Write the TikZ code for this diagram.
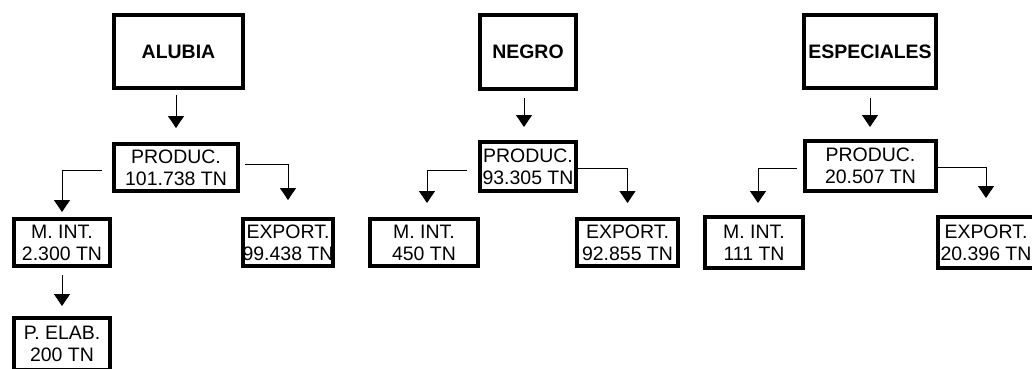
\documentclass[tikz,border=0pt]{standalone}
\usepackage{fontspec}
\setmainfont{Liberation Sans}
\usetikzlibrary{arrows.meta}

\begin{document}
\begin{tikzpicture}[x=0.75pt,y=-0.75pt]

\tikzset{box/.style = {draw, line width=3pt, inner sep=0pt, align=center, font=\fontsize{14.6}{16.5}\selectfont}}
\tikzset{title/.style = {box, font=\fontsize{14.6}{16.5}\selectfont\bfseries}}
\tikzset{edge/.style = {-{Triangle[width=12pt,length=9pt]}, line width=0.75pt}}
\useasboundingbox (0,0) rectangle (1032,368);
%titles
\node[title, minimum width=96.75pt, minimum height=54.75pt] (alubia) at (178.5,51.5) {ALUBIA};
\node[title, minimum width=72pt, minimum height=55.5pt] (negro) at (528,52) {NEGRO};
\node[title, minimum width=99pt, minimum height=54.75pt] (especiales) at (870,51.5) {ESPECIALES};
%production
\node[box, minimum width=93pt, minimum height=35.25pt] (prodA) at (176,167.5) {PRODUC.\\101.738 TN};
\node[box, minimum width=72pt, minimum height=36.75pt] (prodN) at (528,166.5) {PRODUC.\\93.305 TN};
\node[box, minimum width=98.25pt, minimum height=37.5pt] (prodE) at (870.5,166) {PRODUC.\\20.507 TN};
%destinations
\node[box, minimum width=72pt, minimum height=35.25pt] (mintA) at (62,242.5) {M. INT.\\2.300 TN};
\node[box, minimum width=67.5pt, minimum height=35.25pt] (expA) at (288,242.5) {EXPORT.\\99.438 TN};
\node[box, minimum width=72pt, minimum height=39pt] (elabA) at (62,344) {P. ELAB.\\200 TN};
\node[box, minimum width=81pt, minimum height=35.25pt] (mintN) at (424,242.5) {M. INT.\\450 TN};
\node[box, minimum width=75.75pt, minimum height=35.25pt] (expN) at (627.5,242.5) {EXPORT.\\92.855 TN};
\node[box, minimum width=73.5pt, minimum height=38.25pt] (mintE) at (754,242.5) {M. INT.\\111 TN};
\node[box, minimum width=72pt, minimum height=38.25pt] (expE) at (986,242.5) {EXPORT.\\20.396 TN};
%arrows
\draw[edge, shorten <=3.75pt, shorten >=10.5pt] (alubia.south -| prodA.north) -- (prodA.north);
\draw[edge, shorten <=5.25pt, shorten >=9.75pt] ([xshift=-3pt]negro.south) -- ([xshift=-3pt]prodN.north);
\draw[edge, shorten <=6pt, shorten >=9pt] (especiales.south) -- (especiales.south |- prodE.north);
\draw[edge, shorten >=3.75pt] ([shift={(-10,2.5)}]prodA.west) -| (mintA.north);
\draw[edge, shorten >=12.75pt] ([shift={(5,-3.5)}]prodA.east) -| (expA.north);
\draw[edge, shorten <=5.25pt, shorten >=7.5pt] (mintA) -- (elabA);
\draw[edge, shorten >=10.5pt] ([shift={(-11,3.5)}]prodN.west) -| ([xshift=2.25pt]mintN.north);
\draw[edge, shorten >=10.5pt] ([shift={(-3,1.5)}]prodN.east) -| (expN.north);
\draw[edge, shorten >=9pt] ([shift={(-6,2)}]prodE.west) -| ([xshift=3pt]mintE.north);
\draw[edge, shorten >=12.75pt] ([shift={(0,1)}]prodE.east) -| (expE.north);

\end{tikzpicture}
\end{document}
